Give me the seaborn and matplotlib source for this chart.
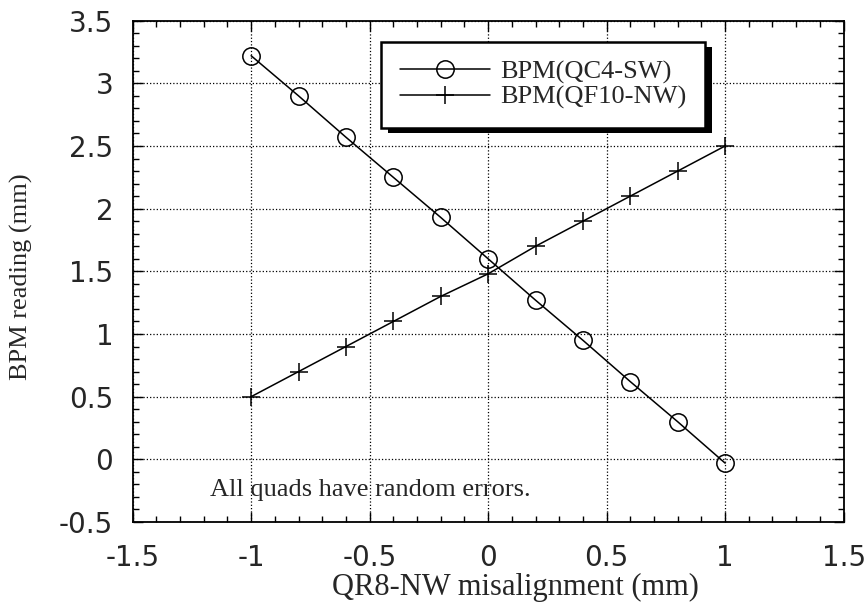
import numpy as np
import pandas as pd
import matplotlib
matplotlib.use('Agg')
import matplotlib.pyplot as plt
import matplotlib.patheffects as pe
from matplotlib.ticker import MultipleLocator
import seaborn as sns

# datos
misalign = [-1.0, -0.8, -0.6, -0.4, -0.2, 0.0, 0.2, 0.4, 0.6, 0.8, 1.0]
bpm_qc4 = [3.22, 2.90, 2.57, 2.25, 1.93, 1.60, 1.27, 0.95, 0.62, 0.30, -0.03]
bpm_qf10 = [0.50, 0.70, 0.90, 1.10, 1.30, 1.48, 1.70, 1.90, 2.10, 2.30, 2.50]
labels = ['BPM(QC4-SW)', 'BPM(QF10-NW)']
note = 'All quads have random errors.'

sns.set_style('ticks')
plt.rcParams['font.family'] = ['Liberation Serif', 'DejaVu Serif']

fig = plt.figure(figsize=(8.67, 6.07), dpi=100)
ax = fig.add_axes([0.153, 0.140, 0.820, 0.826])

df = pd.DataFrame({'x': misalign, 'qc4': bpm_qc4, 'qf10': bpm_qf10})

sns.lineplot(data=df, x='x', y='qc4', ax=ax, color='k', lw=1.1, marker='o',
             markersize=12.5, markerfacecolor='none', markeredgecolor='k',
             markeredgewidth=1.1, label=labels[0])
sns.lineplot(data=df, x='x', y='qf10', ax=ax, color='k', lw=1.1, marker='+',
             markersize=13, markeredgecolor='k', markeredgewidth=1.1,
             label=labels[1])

ax.set_xlim(-1.5, 1.5)
ax.set_ylim(-0.5, 3.5)
ax.xaxis.set_major_locator(MultipleLocator(0.5))
ax.xaxis.set_minor_locator(MultipleLocator(0.1))
ax.yaxis.set_major_locator(MultipleLocator(0.5))
ax.yaxis.set_minor_locator(MultipleLocator(0.1))
ax.xaxis.set_major_formatter(plt.FuncFormatter(lambda v, p: f'{v:g}'))
ax.yaxis.set_major_formatter(plt.FuncFormatter(lambda v, p: f'{v:g}'))

ax.grid(True, which='major', linestyle=':', color='k', lw=0.9)
ax.tick_params(which='both', direction='in', top=True, right=True, color='k')
ax.tick_params(which='major', length=7, width=1)
ax.tick_params(which='minor', length=4.5, width=1)
ax.tick_params(axis='x', which='major', pad=16)
ax.tick_params(axis='y', which='major', pad=14)
for lab in ax.get_xticklabels() + ax.get_yticklabels():
    lab.set_fontfamily(['DejaVu Sans'])
    lab.set_fontsize(20)
for s in ax.spines.values():
    s.set_linewidth(1.3)
    s.set_color('k')

# etiquetas de ejes
ax.set_xlabel('QR8-NW misalignment (mm)', fontsize=22)
ax.set_ylabel('BPM reading (mm)', fontsize=19)
ax.xaxis.set_label_coords(0.538, -0.102)
ax.yaxis.set_label_coords(-0.14, 0.49)

ax.text(-1.175, -0.29, note, fontsize=19)

leg = ax.legend(loc='upper left', bbox_to_anchor=(0.35, 0.958), fontsize=19,
                frameon=True, fancybox=False, shadow=False, handlelength=3.4,
                labelspacing=0.05, borderpad=0.7, handletextpad=0.4,
                borderaxespad=0)
frame = leg.get_frame()
frame.set_edgecolor('k')
frame.set_linewidth(1.8)
frame.set_facecolor('white')
frame.set_alpha(1)
frame.set_path_effects([pe.SimplePatchShadow(offset=(5, -4), shadow_rgbFace='k', alpha=1),
                        pe.Normal()])

fig.savefig('out.png', dpi=100)
